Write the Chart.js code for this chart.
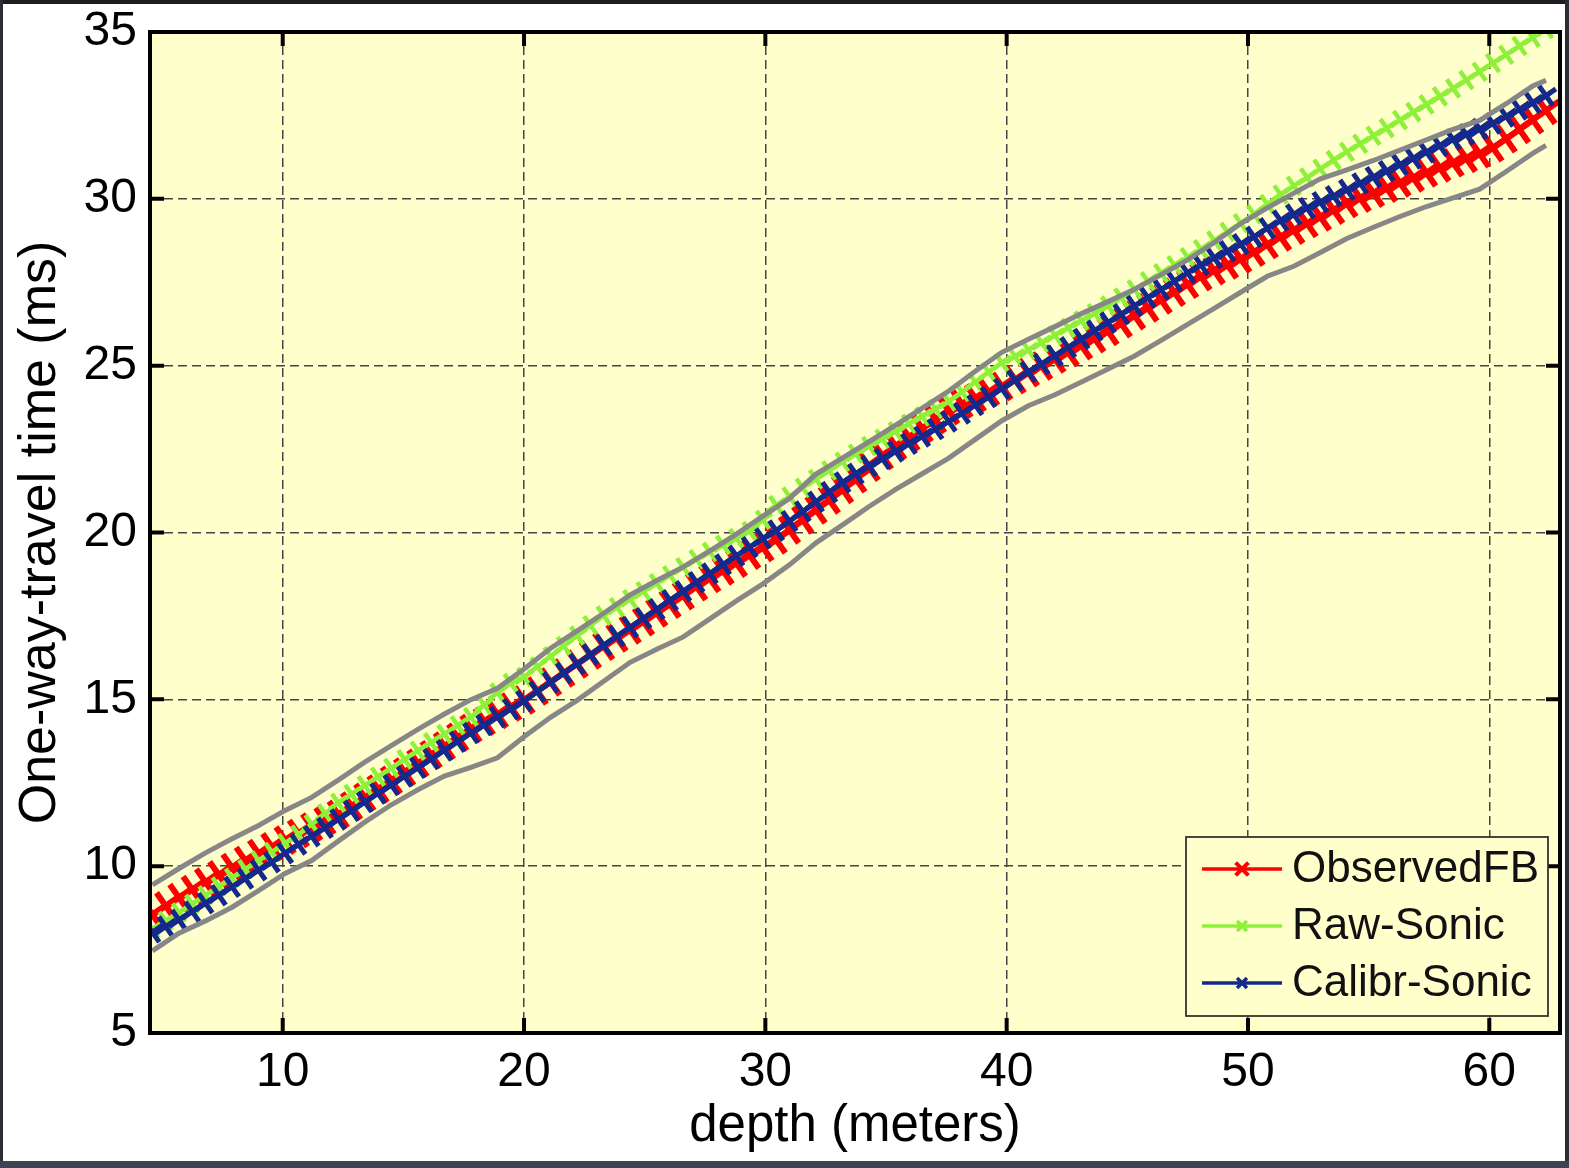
<!DOCTYPE html>
<html><head><meta charset="utf-8">
<script src="https://cdn.jsdelivr.net/npm/chart.js@4.4.1/dist/chart.umd.min.js"></script>
<style>
html,body{margin:0;padding:0;background:#fff;width:1569px;height:1168px;overflow:hidden;}
#c{position:absolute;left:0;top:0;width:1569px;height:1168px;}
.fr{position:absolute;}
</style></head><body>
<canvas id="c" width="1569" height="1168"></canvas>
<div class="fr" style="left:0;top:0;width:1569px;height:4px;background:#1d1e22"></div>
<div class="fr" style="left:0;top:0;width:3px;height:1168px;background:#2a2d35"></div>
<div class="fr" style="right:0;top:0;width:4px;height:1168px;background:#2a2d35"></div>
<div class="fr" style="left:0;bottom:0;width:1569px;height:7px;background:#3f4455"></div>
<script>
// ---- data ----
const depth = [4.60,5.15,5.70,6.25,6.80,7.35,7.90,8.45,9.00,9.55,
10.10,10.65,11.20,11.75,12.30,12.85,13.40,13.95,14.50,15.05,
15.60,16.15,16.70,17.25,17.80,18.35,18.90,19.45,20.00,20.55,
21.10,21.65,22.20,22.75,23.30,23.85,24.40,24.95,25.50,26.05,
26.60,27.15,27.70,28.25,28.80,29.35,29.90,30.45,31.00,31.55,
32.10,32.65,33.20,33.75,34.30,34.85,35.40,35.95,36.50,37.05,
37.60,38.15,38.70,39.25,39.80,40.35,40.90,41.45,42.00,42.55,
43.10,43.65,44.20,44.75,45.30,45.85,46.40,46.95,47.50,48.05,
48.60,49.15,49.70,50.25,50.80,51.35,51.90,52.45,53.00,53.55,
54.10,54.65,55.20,55.75,56.30,56.85,57.40,57.95,58.50,59.05,
59.60,60.15,60.70,61.25,61.80,62.35];

const observedFB = [8.55,8.81,9.06,9.30,9.52,9.74,9.96,10.17,10.38,10.58,
10.78,10.98,11.17,11.36,11.55,11.80,12.06,12.31,12.57,12.82,
13.08,13.34,13.60,13.86,14.12,14.34,14.55,14.77,14.98,15.25,
15.52,15.79,16.06,16.33,16.59,16.84,17.08,17.33,17.59,17.85,
18.11,18.38,18.62,18.85,19.08,19.32,19.55,19.78,20.08,20.38,
20.68,20.98,21.29,21.61,21.96,22.30,22.59,22.86,23.12,23.39,
23.65,23.85,24.03,24.21,24.38,24.58,24.79,24.99,25.20,25.40,
25.60,25.81,26.03,26.26,26.50,26.73,26.97,27.20,27.44,27.67,
27.85,28.02,28.20,28.40,28.63,28.86,29.06,29.26,29.46,29.66,
29.86,30.02,30.17,30.32,30.48,30.63,30.78,30.93,31.08,31.21,
31.35,31.53,31.80,32.08,32.37,32.65];

const rawSonic = [8.12,8.36,8.61,8.87,9.13,9.39,9.65,9.91,10.17,10.42,
10.69,10.95,11.26,11.58,11.90,12.16,12.42,12.68,12.94,13.20,
13.46,13.71,13.96,14.22,14.47,14.83,15.20,15.49,15.67,15.98,
16.29,16.60,16.91,17.22,17.51,17.76,18.00,18.24,18.48,18.72,
18.96,19.20,19.42,19.63,19.83,20.04,20.38,20.82,21.08,21.34,
21.60,21.86,22.12,22.36,22.59,22.81,23.03,23.26,23.48,23.70,
23.93,24.21,24.51,24.81,25.09,25.28,25.47,25.69,25.91,26.13,
26.35,26.57,26.80,27.04,27.28,27.53,27.77,28.01,28.25,28.49,
28.75,29.01,29.27,29.54,29.84,30.13,30.39,30.64,30.90,31.16,
31.41,31.65,31.89,32.12,32.36,32.60,32.83,33.07,33.31,33.56,
33.81,34.07,34.32,34.58,34.83,35.09];

const calibrSonic = [8.02,8.19,8.39,8.64,8.89,9.13,9.38,9.63,9.88,10.12,
10.39,10.65,10.90,11.15,11.40,11.66,11.92,12.18,12.43,12.69,
12.95,13.21,13.47,13.73,13.99,14.23,14.47,14.71,14.95,15.23,
15.51,15.79,16.06,16.34,16.62,16.89,17.16,17.43,17.70,17.97,
18.24,18.51,18.77,19.04,19.30,19.56,19.82,20.06,20.34,20.63,
20.92,21.21,21.50,21.76,21.99,22.21,22.43,22.66,22.88,23.10,
23.33,23.57,23.82,24.06,24.31,24.56,24.81,25.05,25.30,25.55,
25.80,26.05,26.29,26.54,26.79,27.04,27.28,27.53,27.78,28.02,
28.23,28.43,28.64,28.86,29.12,29.35,29.53,29.72,29.90,30.08,
30.27,30.46,30.65,30.83,31.02,31.21,31.40,31.59,31.78,31.93,
32.09,32.26,32.47,32.68,32.88,33.09];

const boundDepth = [4.60,5.70,6.80,7.90,9.00,10.10,11.20,12.30,13.40,14.50,
15.60,16.70,17.80,18.90,20.00,21.10,22.20,23.30,24.40,25.50,
26.60,27.70,28.80,29.90,31.00,32.10,33.20,34.30,35.40,36.50,
37.60,38.70,39.80,40.90,42.00,43.10,44.20,45.30,46.40,47.50,
48.60,49.70,50.80,51.90,53.00,54.10,55.20,56.30,57.40,58.50,
59.60,60.70,61.80,62.35];

const upperBound = [9.44,9.93,10.40,10.82,11.22,11.67,12.06,12.58,13.12,13.61,
14.10,14.56,14.99,15.33,15.91,16.53,17.05,17.58,18.13,18.56,
18.97,19.45,19.95,20.49,21.02,21.75,22.24,22.72,23.22,23.73,
24.24,24.83,25.40,25.79,26.17,26.56,26.92,27.29,27.73,28.17,
28.69,29.26,29.73,30.17,30.60,30.87,31.15,31.46,31.77,32.08,
32.35,32.85,33.38,33.55];

const lowerBound = [7.46,7.99,8.36,8.77,9.27,9.78,10.17,10.75,11.32,11.84,
12.29,12.70,12.96,13.25,13.88,14.46,14.97,15.54,16.11,16.50,
16.87,17.41,17.95,18.46,19.03,19.69,20.23,20.78,21.29,21.76,
22.23,22.79,23.35,23.80,24.13,24.51,24.90,25.29,25.76,26.24,
26.72,27.20,27.68,27.98,28.39,28.81,29.15,29.47,29.77,30.03,
30.29,30.82,31.36,31.60];

const xTicks = [10, 20, 30, 40, 50, 60];
const yTicks = [5, 10, 15, 20, 25, 30, 35];
const legendLabels = ['ObservedFB', 'Raw-Sonic', 'Calibr-Sonic'];

// ---- styling ----
const FONT = "'Liberation Sans', Arial, Helvetica, sans-serif";
const PLOT_BG = '#ffffcc';
const RED = '#ff0000', GREEN = '#8ff03a', BLUE = '#15288c', GREY = '#878787';
const MARK_ROT = 10;

const pts = (xs, ys) => xs.map((v, i) => ({x: v, y: ys[i]}));

const framePlugin = {
  id: 'frame',
  beforeDraw(chart) {
    const {ctx, chartArea: a} = chart;
    ctx.save();
    ctx.fillStyle = '#ffffff';
    ctx.fillRect(0, 0, chart.width, chart.height);
    ctx.fillStyle = PLOT_BG;
    ctx.fillRect(a.left, a.top, a.right - a.left, a.bottom - a.top);
    ctx.restore();
  },
  afterDraw(chart) {
    const {ctx, chartArea: a} = chart;
    const xs = chart.scales.x, ys = chart.scales.y;
    ctx.save();
    ctx.setLineDash([]);
    ctx.strokeStyle = '#000';
    ctx.lineWidth = 4;
    ctx.beginPath();
    xTicks.forEach(v => {
      const p = xs.getPixelForValue(v);
      ctx.moveTo(p, a.bottom); ctx.lineTo(p, a.bottom - 15);
      ctx.moveTo(p, a.top); ctx.lineTo(p, a.top + 14);
    });
    yTicks.forEach(v => {
      const p = ys.getPixelForValue(v);
      ctx.moveTo(a.left, p); ctx.lineTo(a.left + 14, p);
      ctx.moveTo(a.right, p); ctx.lineTo(a.right - 14, p);
    });
    ctx.stroke();
    ctx.strokeRect(a.left, a.top, a.right - a.left, a.bottom - a.top);

    // legend box
    const lw = 362, lh = 179;
    const lx = a.right - 12 - lw, ly = a.bottom - 17 - lh;
    ctx.fillStyle = PLOT_BG;
    ctx.fillRect(lx, ly, lw, lh);
    ctx.lineWidth = 1.8;
    ctx.strokeStyle = '#333';
    ctx.strokeRect(lx, ly, lw, lh);
    legendLabels.forEach((lab, k) => {
      const ds = chart.data.datasets.find(d => d.label === lab);
      const cy = ly + 32 + k * 57;
      ctx.strokeStyle = ds.borderColor;
      ctx.lineWidth = 3.5;
      ctx.beginPath();
      ctx.moveTo(lx + 16, cy); ctx.lineTo(lx + 96, cy);
      ctx.stroke();
      ctx.lineWidth = k === 0 ? 4 : 3.5;
      Chart.helpers.drawPoint(ctx, {pointStyle: 'crossRot', radius: k === 0 ? 9 : 7, borderWidth: 3, rotation: 0}, lx + 56, cy);
      ctx.fillStyle = '#111';
      ctx.font = '44px ' + FONT;
      ctx.textBaseline = 'middle';
      ctx.textAlign = 'left';
      ctx.fillText(lab, lx + 106, cy + 1);
    });
    ctx.restore();
  }
};

new Chart(document.getElementById('c'), {
  type: 'line',
  data: {
    datasets: [
      {label: 'upper', data: pts(boundDepth, upperBound), borderColor: GREY, borderWidth: 5,
       pointRadius: 0, order: 0, clip: 0},
      {label: 'lower', data: pts(boundDepth, lowerBound), borderColor: GREY, borderWidth: 5,
       pointRadius: 0, order: 0, clip: 0},
      {label: 'Calibr-Sonic', data: pts(depth, calibrSonic), borderColor: BLUE, borderWidth: 4.5,
       pointStyle: 'crossRot', pointRotation: MARK_ROT, pointRadius: 12, pointBorderWidth: 5,
       pointBorderColor: BLUE, pointBackgroundColor: BLUE, order: 1, clip: 0},
      {label: 'Raw-Sonic', data: pts(depth, rawSonic), borderColor: GREEN, borderWidth: 4,
       pointStyle: 'crossRot', pointRotation: MARK_ROT, pointRadius: 11, pointBorderWidth: 4.5,
       pointBorderColor: GREEN, pointBackgroundColor: GREEN, order: 2, clip: 0},
      {label: 'ObservedFB', data: pts(depth, observedFB), borderColor: RED, borderWidth: 5,
       pointStyle: 'crossRot', pointRotation: MARK_ROT, pointRadius: 16, pointBorderWidth: 6,
       pointBorderColor: RED, pointBackgroundColor: RED, order: 3, clip: 0}
    ]
  },
  options: {
    responsive: false,
    animation: false,
    devicePixelRatio: 1,
    tension: 0,
    layout: {autoPadding: false, padding: {left: 0, right: 9, top: 32, bottom: 0}},
    plugins: {legend: {display: false}, tooltip: {enabled: false}},
    scales: {
      x: {
        type: 'linear', min: 4.5, max: 62.93,
        afterBuildTicks: s => { s.ticks = xTicks.map(v => ({value: v})); },
        afterFit: s => { s.height = 135; },
        grid: {color: '#444', lineWidth: 1.5, drawTicks: false},
        border: {display: false, dash: [9, 5]},
        ticks: {padding: 11, color: '#000', font: {family: FONT, size: 48}},
        title: {display: true, text: 'depth (meters)', color: '#000',
                font: {family: FONT, size: 51}, padding: {top: 0, bottom: 10}}
      },
      y: {
        type: 'linear', min: 5, max: 35,
        afterBuildTicks: s => { s.ticks = yTicks.map(v => ({value: v})); },
        afterFit: s => { s.width = 150; },
        grid: {color: '#444', lineWidth: 1.5, drawTicks: false},
        border: {display: false, dash: [9, 5]},
        ticks: {padding: 13, color: '#000', font: {family: FONT, size: 48, lineHeight: 0.5}},
        title: {display: true, text: 'One-way-travel time (ms)', color: '#000',
                font: {family: FONT, size: 52}, padding: {top: 9, bottom: 0}}
      }
    }
  },
  plugins: [framePlugin]
});
</script>
</body></html>
